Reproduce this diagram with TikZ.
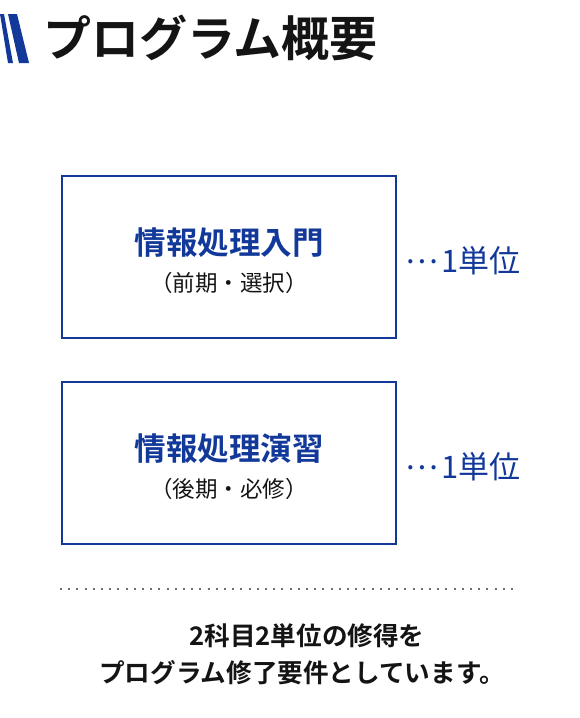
\documentclass[tikz,border=0pt]{standalone}
\usepackage{fontspec}
\usepackage{tikz}
\usetikzlibrary{positioning,calc}
\setmainfont{Noto Sans CJK JP}[BoldFont={* Bold}]
\definecolor{Ink}{HTML}{141414}
\definecolor{Navy}{HTML}{12399A}
\definecolor{Dots}{HTML}{6E6E6E}
\tikzset{
  course/.style={draw=Navy,line width=1.8pt,minimum width=334pt,minimum height=162pt,inner sep=0pt},
  cname/.style={text=Navy,font=\bfseries\fontsize{31.5}{34}\selectfont,inner sep=0pt},
  cterm/.style={text=Ink,font=\fontsize{22.5}{25}\selectfont,inner sep=0pt},
  credit/.style={text=Navy,font=\fontsize{31}{34}\selectfont,inner sep=0pt},
  note/.style={text=Ink,font=\bfseries\fontsize{25.6}{28}\selectfont,inner sep=0pt},
  bar/.style={fill=Navy,draw=none}
}
\newcommand{\midots}{\raisebox{.3em}{…}\hspace{.12em}}
\begin{document}
\begin{tikzpicture}[x=1pt,y=-1pt,node distance=8pt]
      \useasboundingbox (0,0) rectangle (580,718);
      \fill[bar] (0,14) -- (4,14) -- (13,63) -- (8,63) -- cycle;
      \fill[bar] (8,14) -- (17,14) -- (29,63) -- (19,63) -- cycle;
      \node[anchor=west,text=Ink,font=\bfseries\fontsize{48}{51}\selectfont,inner sep=0pt] (title) at (43,38) {プログラム概要};

      \node[course] (intro) at (229,257) {};
      \node[cname] (introname) at ($(intro.center)+(0,-14)$) {情報処理入門};
      \node[cterm] (introterm) at ($(intro.center)+(0,26)$) {（前期・選択）};
      \node[credit,anchor=west] (introcredit) at ($(intro.east)+(8,4)$) {\midots 1単位};

      \node[course] (prac) at (229,463) {};
      \node[cname] (pracname) at ($(prac.center)+(0,-14)$) {情報処理演習};
      \node[cterm] (practerm) at ($(prac.center)+(0,26)$) {（後期・必修）};
      \node[credit,anchor=west] (praccredit) at ($(prac.east)+(8,4)$) {\midots 1単位};

      \coordinate (dl) at (60,589);
      \coordinate (dr) at (519,589);
      \draw[Dots,line width=1.9pt,dash pattern=on 1.9pt off 6.3pt] (dl) -- (dr);

      \node[note] (req1) at (307,636) {2科目2単位の修得を};
      \node[note] (req2) at (302,673) {プログラム修了要件としています。};
    \end{tikzpicture}
\end{document}
